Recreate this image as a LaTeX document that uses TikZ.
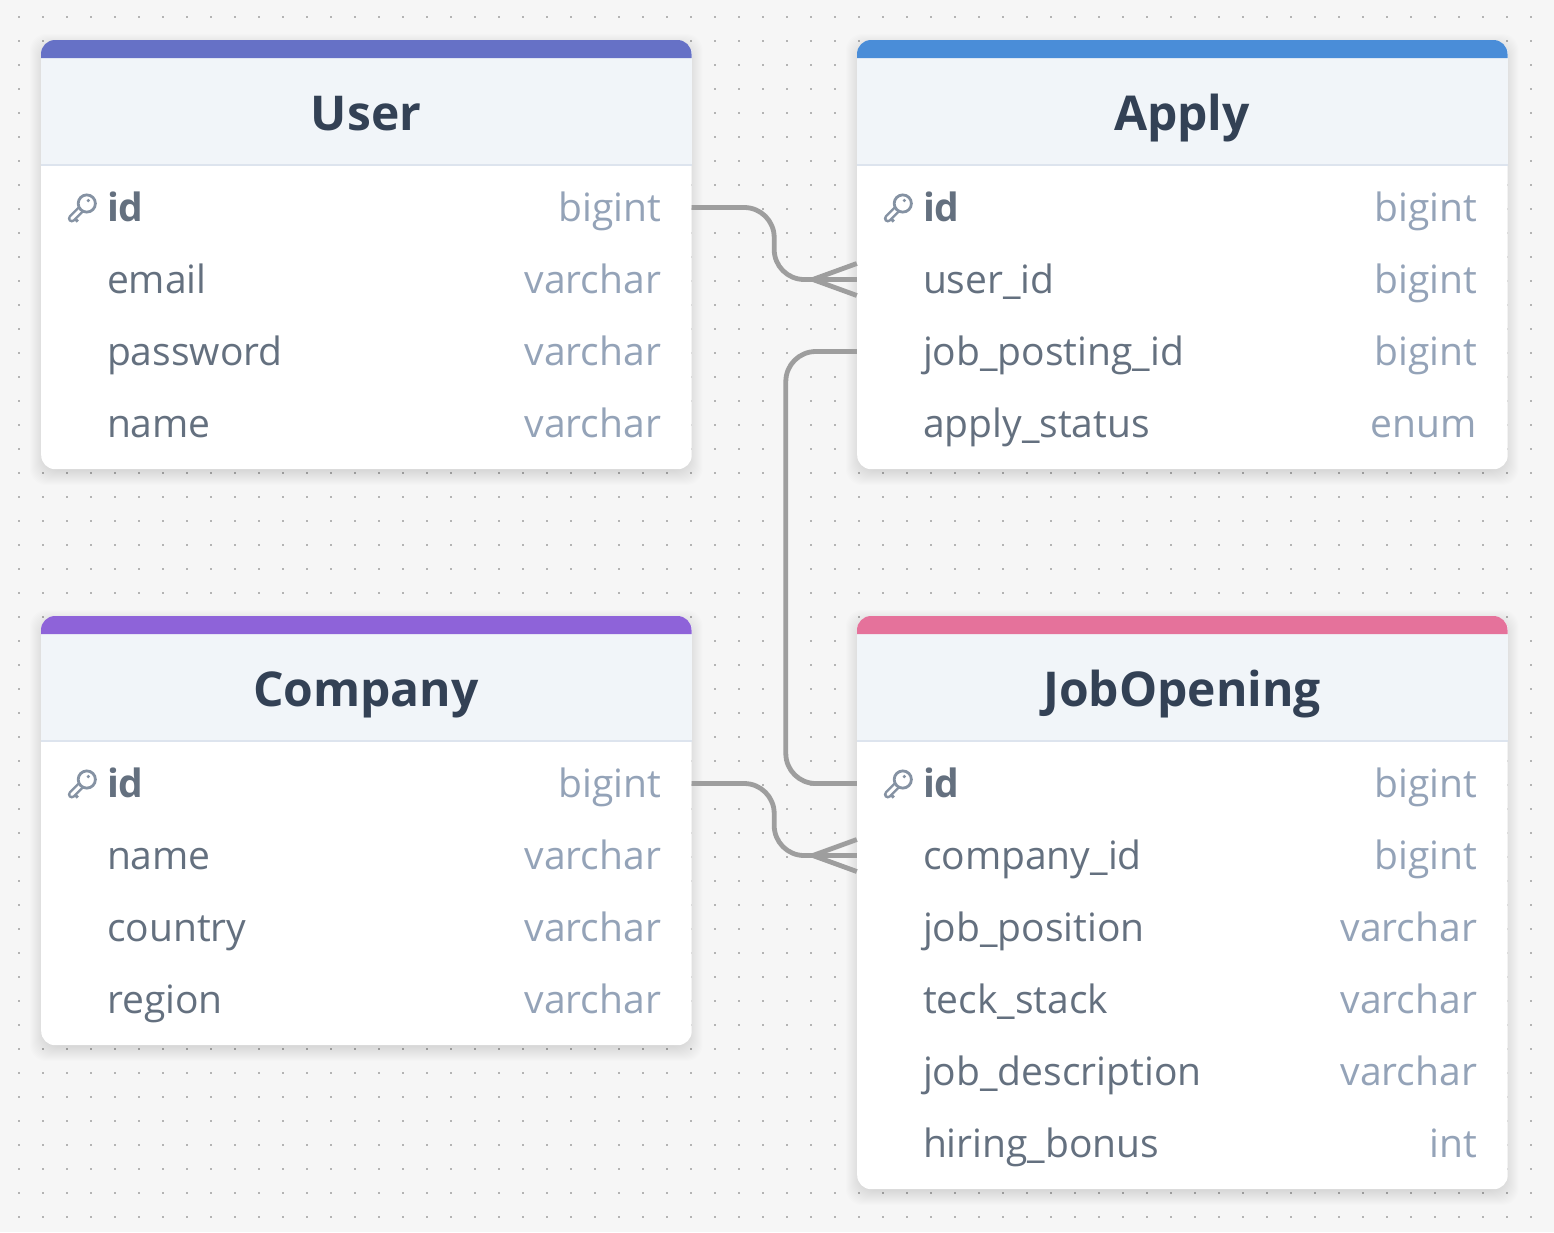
\documentclass[tikz,border=0pt]{standalone}
\usepackage{fontspec}
\setmainfont{Open Sans}
\usetikzlibrary{positioning}

\definecolor{pagebg}{HTML}{F6F6F6}
\definecolor{griddot}{HTML}{B4B4B4}
\definecolor{headbg}{HTML}{F1F5F9}
\definecolor{headline}{HTML}{DDE4EE}
\definecolor{titlecol}{HTML}{334155}
\definecolor{fieldcol}{HTML}{64707F}
\definecolor{typecol}{HTML}{94A3B8}
\definecolor{keycol}{HTML}{8592A3}
\definecolor{relcol}{HTML}{9E9E9E}
\definecolor{barUser}{HTML}{6671C6}
\definecolor{barApply}{HTML}{4A8DD8}
\definecolor{barCompany}{HTML}{8E63D9}
\definecolor{barJob}{HTML}{E5729B}

\tikzset{
  cardbox/.style={anchor=north west, fill=white, rounded corners=14pt, minimum width=650.5pt, inner sep=0pt},
  titletext/.style={color=titlecol, font=\fontsize{48}{52}\selectfont\bfseries, inner sep=0pt, text height=34pt, text depth=0pt},
  rowbox/.style={minimum width=650.5pt, minimum height=72pt, inner sep=0pt},
  fieldtext/.style={color=fieldcol, font=\fontsize{39}{44}\selectfont, inner sep=0pt, text height=27pt, text depth=0pt},
  typetext/.style={color=typecol, font=\fontsize{39}{44}\selectfont, inner sep=0pt, text height=27pt, text depth=0pt},
  rel/.style={color=relcol, line width=4.8pt, rounded corners=30pt},
  crow/.style={color=relcol, line width=4.8pt, line join=round},
  keyicon/.pic={
    \draw[keycol, line width=8pt, line cap=round] (-6,6) -- (-15,15);
    \draw[keycol, line width=3pt] (-11,16) -- (-9,18);
    \draw[white, line width=3pt, line cap=round] (-6,6) -- (-15,15);
    \draw[keycol, line width=2.8pt, fill=white] (0,0) circle (8.6pt);
    \fill[keycol] (1.5,-3) circle (1.8pt);
  }
}

% card with coloured bar, header and shadow: name, x, y, height, bar colour
\newcommand{\tablecard}[5]{
  \foreach \s in {-4,...,11}
    \fill[black, opacity=0.006, rounded corners=16pt] (#2-\s,#3-\s+5) rectangle (#2+650.5+\s,#3+#4+\s+5);
  \node[cardbox, minimum height=#4 pt] (#1) at (#2,#3) {};
  \fill[headbg] (#2,#3+10) rectangle (#2+650.5,#3+124);
  \fill[#5] (#2,#3+18) [rounded corners=14pt] -- (#2,#3) -- (#2+650.5,#3) [sharp corners] -- (#2+650.5,#3+18) -- cycle;
  \draw[headline, line width=2pt] (#2,#3+124.5) -- (#2+650.5,#3+124.5);
}

% one field row of a table: name, centre x, centre y, field, type
\newcommand{\fieldrow}[5]{
  \node[rowbox] (#1) at (#2,#3) {};
  \node[fieldtext, right=66pt of #1.west] (#1name) {#4};
  \node[typetext, left=30.5pt of #1.east] (#1type) {#5};
}

\begin{document}
\begin{tikzpicture}[x=1pt, y=-1pt]

\useasboundingbox (0,0) rectangle (1554,1232);
\fill[pagebg] (0,0) rectangle (1554,1232);

% dotted canvas
\foreach \i in {0,...,64}
  \foreach \j in {0,...,50}
    \fill[griddot] (18+24*\i,16+24*\j) rectangle ++(2.2,2.2);

\tablecard{user}{41}{40}{429}{barUser}
\tablecard{apply}{857}{40}{429}{barApply}
\tablecard{company}{41}{616}{429}{barCompany}
\tablecard{job}{857}{616}{573}{barJob}

\node[titletext] (usertitle) at (366,113.5) {User};
\node[titletext] (applytitle) at (1182,113.5) {Apply};
\node[titletext] (companytitle) at (366,689.5) {Company};
\node[titletext] (jobtitle) at (1182,689.5) {JobOpening};

\fieldrow{userid}{366.25}{207.5}{\textbf{id}}{bigint}
\fieldrow{useremail}{366.25}{279.5}{email}{varchar}
\fieldrow{userpassword}{366.25}{351.5}{password}{varchar}
\fieldrow{username}{366.25}{423.5}{name}{varchar}

\fieldrow{applyid}{1182.25}{207.5}{\textbf{id}}{bigint}
\fieldrow{applyuser}{1182.25}{279.5}{user\_id}{bigint}
\fieldrow{applyjob}{1182.25}{351.5}{job\_posting\_id}{bigint}
\fieldrow{applystatus}{1182.25}{423.5}{apply\_status}{enum}

\fieldrow{companyid}{366.25}{783.5}{\textbf{id}}{bigint}
\fieldrow{companyname}{366.25}{855.5}{name}{varchar}
\fieldrow{companycountry}{366.25}{927.5}{country}{varchar}
\fieldrow{companyregion}{366.25}{999.5}{region}{varchar}

\fieldrow{jobid}{1182.25}{783.5}{\textbf{id}}{bigint}
\fieldrow{jobcompany}{1182.25}{855.5}{company\_id}{bigint}
\fieldrow{jobposition}{1182.25}{927.5}{job\_position}{varchar}
\fieldrow{jobstack}{1182.25}{999.5}{teck\_stack}{varchar}
\fieldrow{jobdescription}{1182.25}{1071.5}{job\_description}{varchar}
\fieldrow{jobbonus}{1182.25}{1143.5}{hiring\_bonus}{int}

\pic at ([xshift=46pt,yshift=4pt]userid.west) {keyicon};
\pic at ([xshift=46pt,yshift=4pt]applyid.west) {keyicon};
\pic at ([xshift=46pt,yshift=4pt]companyid.west) {keyicon};
\pic at ([xshift=46pt,yshift=4pt]jobid.west) {keyicon};

\draw[rel] (userid.east) -- ++(82.5,0) -- ++(0,72) -- (applyuser.west);
\draw[rel] (applyjob.west) -- ++(-71,0) |- (jobid.west);
\draw[rel] (companyid.east) -- ++(82.5,0) -- ++(0,72) -- (jobcompany.west);

\draw[crow] ([yshift=16pt]applyuser.west) -- ++(-44,16) -- ([yshift=-16pt]applyuser.west);
\draw[crow] ([yshift=16pt]jobcompany.west) -- ++(-44,16) -- ([yshift=-16pt]jobcompany.west);

\end{tikzpicture}
\end{document}
